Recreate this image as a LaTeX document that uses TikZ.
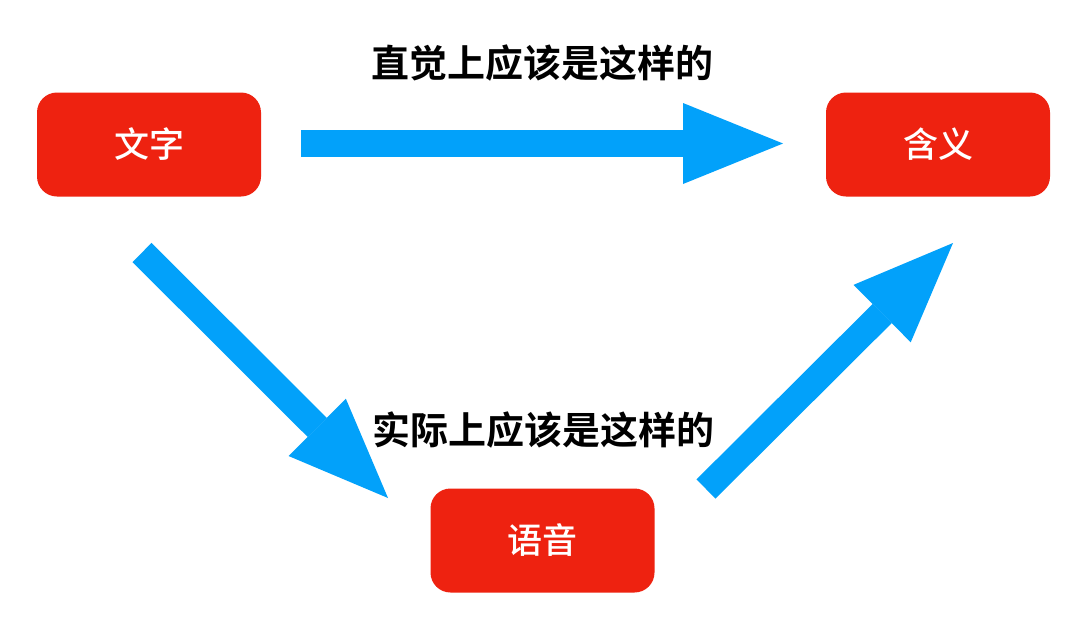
\documentclass[tikz,border=0pt]{standalone}
\usepackage{fontspec}
\setmainfont{Noto Sans CJK SC}
\newfontfamily\cjkbold{Noto Sans CJK SC Bold}
\newfontfamily\cjkmedium{Noto Sans CJK SC Medium}
\usetikzlibrary{arrows.meta}
\definecolor{boxred}{RGB}{238,34,16}
\definecolor{arrowblue}{RGB}{2,161,250}
\tikzset{
  redbox/.style={fill=boxred, draw=none, rounded corners=20pt, minimum width=224pt, minimum height=104pt, inner sep=0pt, text=white, font=\cjkmedium\fontsize{35pt}{40pt}\selectfont},
  fatarrow/.style={draw=arrowblue, line width=27pt, line cap=butt, -{Triangle[width=81pt,length=100pt,line width=0pt,fill=arrowblue]}},
  caption/.style={text=black, font=\cjkbold\fontsize{38pt}{44pt}\selectfont, inner sep=0pt}
}
\begin{document}
\begin{tikzpicture}[x=1pt,y=-1pt]
\useasboundingbox (0,0) rectangle (1080,627);
\fill[white] (0,0) rectangle (1080,627);
\node[redbox] (wenzi) at (149,144.5) {文字};
\node[redbox] (hanyi) at (938,144.5) {含义};
\node[redbox] (yuyin) at (542.5,540.5) {语音};
\node[caption] (top) at (542,63) {直觉上应该是这样的};
\node[caption] (bottom) at (543,430) {实际上应该是这样的};
\coordinate (t1) at (301,143.5);
\coordinate (t2) at (783,143.5);
\coordinate (d1) at (142,252.5);
\coordinate (d2) at (388,498);
\coordinate (u1) at (706,489);
\coordinate (u2) at (953,243);
\draw[fatarrow] (t1) -- (t2);
\draw[fatarrow] (d1) -- (d2);
\draw[fatarrow] (u1) -- (u2);
\end{tikzpicture}
\end{document}
